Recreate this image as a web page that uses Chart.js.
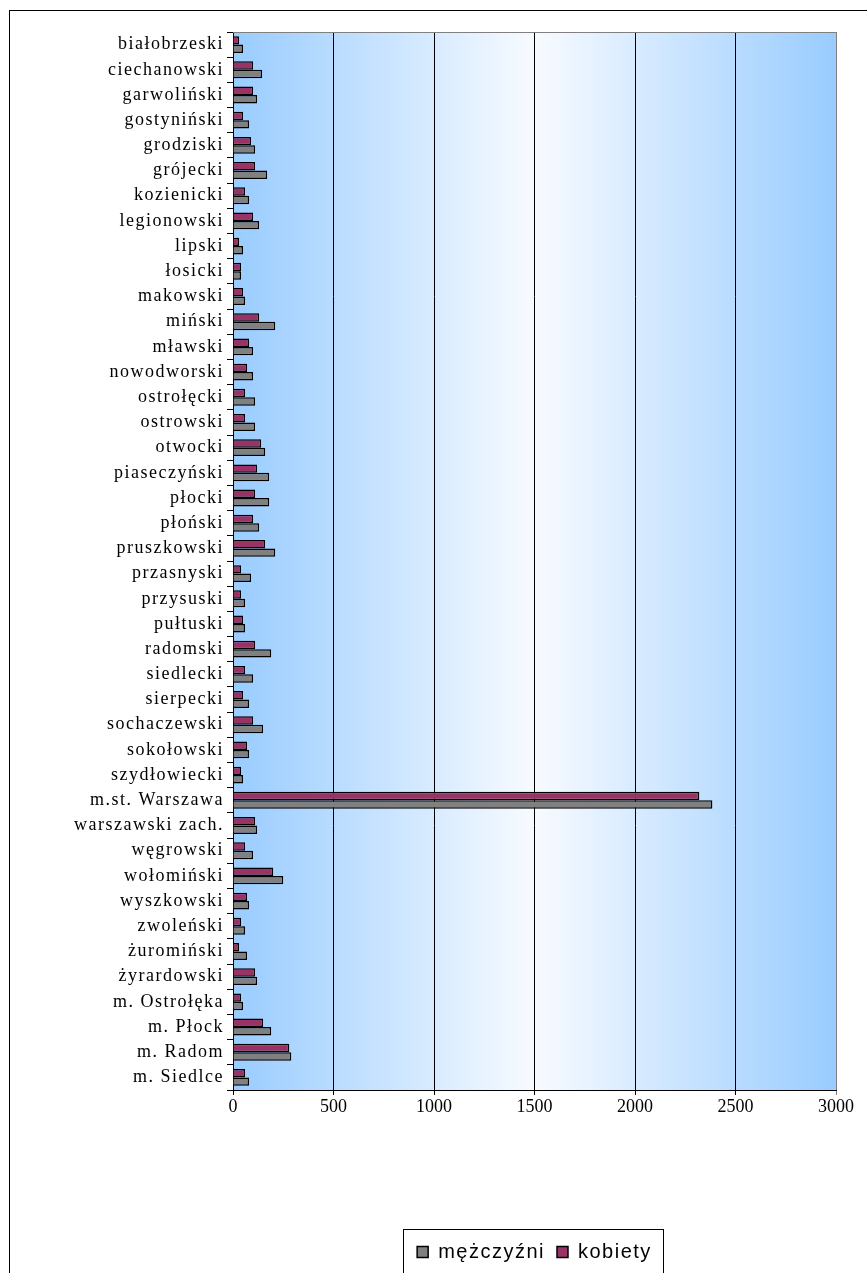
<!DOCTYPE html>
<html>
<head>
<meta charset="utf-8">
<script src="https://cdn.jsdelivr.net/npm/chart.js@4.4.0/dist/chart.umd.min.js"></script>
<style>
  html, body { margin: 0; padding: 0; background: #fff; }
  #wrap { position: relative; width: 867px; height: 1273px; }
</style>
</head>
<body>
<div id="wrap"><canvas id="chart" width="867" height="1273"></canvas></div>
<script>
// powiaty (top to bottom)
const powiaty = ['białobrzeski', 'ciechanowski', 'garwoliński', 'gostyniński', 'grodziski', 'grójecki',
  'kozienicki', 'legionowski', 'lipski', 'łosicki', 'makowski', 'miński', 'mławski', 'nowodworski',
  'ostrołęcki', 'ostrowski', 'otwocki', 'piaseczyński', 'płocki', 'płoński', 'pruszkowski', 'przasnyski',
  'przysuski', 'pułtuski', 'radomski', 'siedlecki', 'sierpecki', 'sochaczewski', 'sokołowski',
  'szydłowiecki', 'm.st. Warszawa', 'warszawski zach.', 'węgrowski', 'wołomiński', 'wyszkowski',
  'zwoleński', 'żuromiński', 'żyrardowski', 'm. Ostrołęka', 'm. Płock', 'm. Radom', 'm. Siedlce'];

const kobiety = [30, 100, 100, 50, 90, 110, 60, 100, 30, 40, 50, 130, 80, 70, 60, 60, 140, 120, 110, 100,
  160, 40, 40, 50, 110, 60, 50, 100, 70, 40, 2320, 110, 60, 200, 70, 40, 30, 110, 40, 150, 280, 60];

const mezczyzni = [50, 145, 120, 80, 110, 170, 80, 130, 50, 40, 60, 210, 100, 100, 110, 110, 160, 180, 180, 130,
  210, 90, 60, 60, 190, 100, 80, 150, 80, 50, 2385, 120, 100, 250, 80, 60, 70, 120, 50, 190, 290, 80];

const xTicks = [0, 500, 1000, 1500, 2000, 2500, 3000];

// gradient background, borders round the plot and the legend
const decor = {
  id: 'decor',
  beforeDraw(chart) {
    const ctx = chart.ctx;
    const a = chart.chartArea;
    const g = ctx.createLinearGradient(a.left, 0, a.right, 0);
    g.addColorStop(0, '#99ccff');
    g.addColorStop(0.5, '#f8fbff');
    g.addColorStop(1, '#99ccff');
    ctx.save();
    ctx.fillStyle = g;
    ctx.fillRect(a.left, a.top, a.right - a.left, a.bottom - a.top);
    ctx.restore();
  },
  afterDraw(chart) {
    const ctx = chart.ctx;
    const a = chart.chartArea;
    ctx.save();
    ctx.strokeStyle = '#808080';
    ctx.lineWidth = 1;
    ctx.beginPath();
    ctx.moveTo(a.left, a.top + 0.5);
    ctx.lineTo(a.right + 0.5, a.top + 0.5);
    ctx.lineTo(a.right + 0.5, a.bottom);
    ctx.stroke();
    // outer frame
    ctx.strokeStyle = '#000';
    ctx.strokeRect(9.5, 10.5, 900, 1300);
    // legend frame
    const boxes = chart.legend.legendHitBoxes;
    if (boxes && boxes.length) {
      const minX = Math.min(...boxes.map(b => b.left));
      const maxX = Math.max(...boxes.map(b => b.left + b.width));
      ctx.strokeRect(Math.round(minX) - 13.5, 1229.5, Math.round(maxX - minX) + 25, 100);
    }
    ctx.restore();
  }
};

// wider letter spacing, like the original rendering
const spacing = {
  id: 'spacing',
  beforeLayout(chart) { chart.ctx.letterSpacing = '1.5px'; },
  afterLayout(chart) {
    chart.ctx.letterSpacing = '0px';
    const wrap = (obj, fn, sp) => {
      if (!obj || obj['_sp_' + fn]) return;
      const orig = obj[fn];
      obj[fn] = function (...args) {
        const c = chart.ctx;
        c.save();
        c.letterSpacing = sp;
        orig.apply(this, args);
        c.restore();
      };
      obj['_sp_' + fn] = true;
    };
    wrap(chart.legend, 'draw', '1.5px');
    wrap(chart.scales.y, 'drawLabels', '1.5px');
  }
};

new Chart(document.getElementById('chart'), {
  type: 'bar',
  data: {
    labels: powiaty,
    datasets: [{
      label: 'kobiety',
      data: kobiety,
      backgroundColor: '#993366',
      borderColor: '#000',
      borderWidth: 1.5,
      categoryPercentage: 0.67,
      barPercentage: 1
    }, {
      label: 'mężczyźni',
      data: mezczyzni,
      backgroundColor: '#808080',
      borderColor: '#000',
      borderWidth: 1.5,
      categoryPercentage: 0.67,
      barPercentage: 1
    }]
  },
  options: {
    indexAxis: 'y',
    responsive: false,
    animation: false,
    layout: { padding: { top: 32, right: 31, left: 0, bottom: 1 } },
    scales: {
      x: {
        min: 0,
        max: 3000,
        afterBuildTicks: (scale) => { scale.ticks = xTicks.map(v => ({ value: v })); },
        afterFit: (scale) => { scale.height = 140; },
        grid: {
          color: (c) => c.tick && c.tick.value === 3000 ? '#808080' : '#000',
          lineWidth: 1,
          tickLength: 5
        },
        border: { display: true, color: '#000' },
        ticks: {
          padding: 1,
          color: '#000',
          callback: (v) => String(v),
          font: { family: '"Liberation Serif", "Times New Roman", serif', size: 18 }
        }
      },
      y: {
        afterFit: (scale) => { scale.width = 233; },
        grid: { drawOnChartArea: false, color: '#000', tickLength: 6 },
        border: { display: true, color: '#000' },
        ticks: {
          padding: 3,
          color: '#000',
          autoSkip: false,
          font: { family: '"Liberation Serif", "Times New Roman", serif', size: 18 }
        }
      }
    },
    plugins: {
      legend: {
        position: 'bottom',
        fullSize: false,
        reverse: true,
        labels: {
          color: '#000',
          boxWidth: 11,
          boxHeight: 11,
          padding: 12,
          font: { family: '"Liberation Sans", Arial, sans-serif', size: 20 },
          generateLabels: (chart) => Chart.defaults.plugins.legend.labels.generateLabels(chart)
            .map(l => Object.assign(l, { lineWidth: 1.5, strokeStyle: '#000' }))
        }
      },
      tooltip: { enabled: false }
    }
  },
  plugins: [decor, spacing]
});
</script>
</body>
</html>
